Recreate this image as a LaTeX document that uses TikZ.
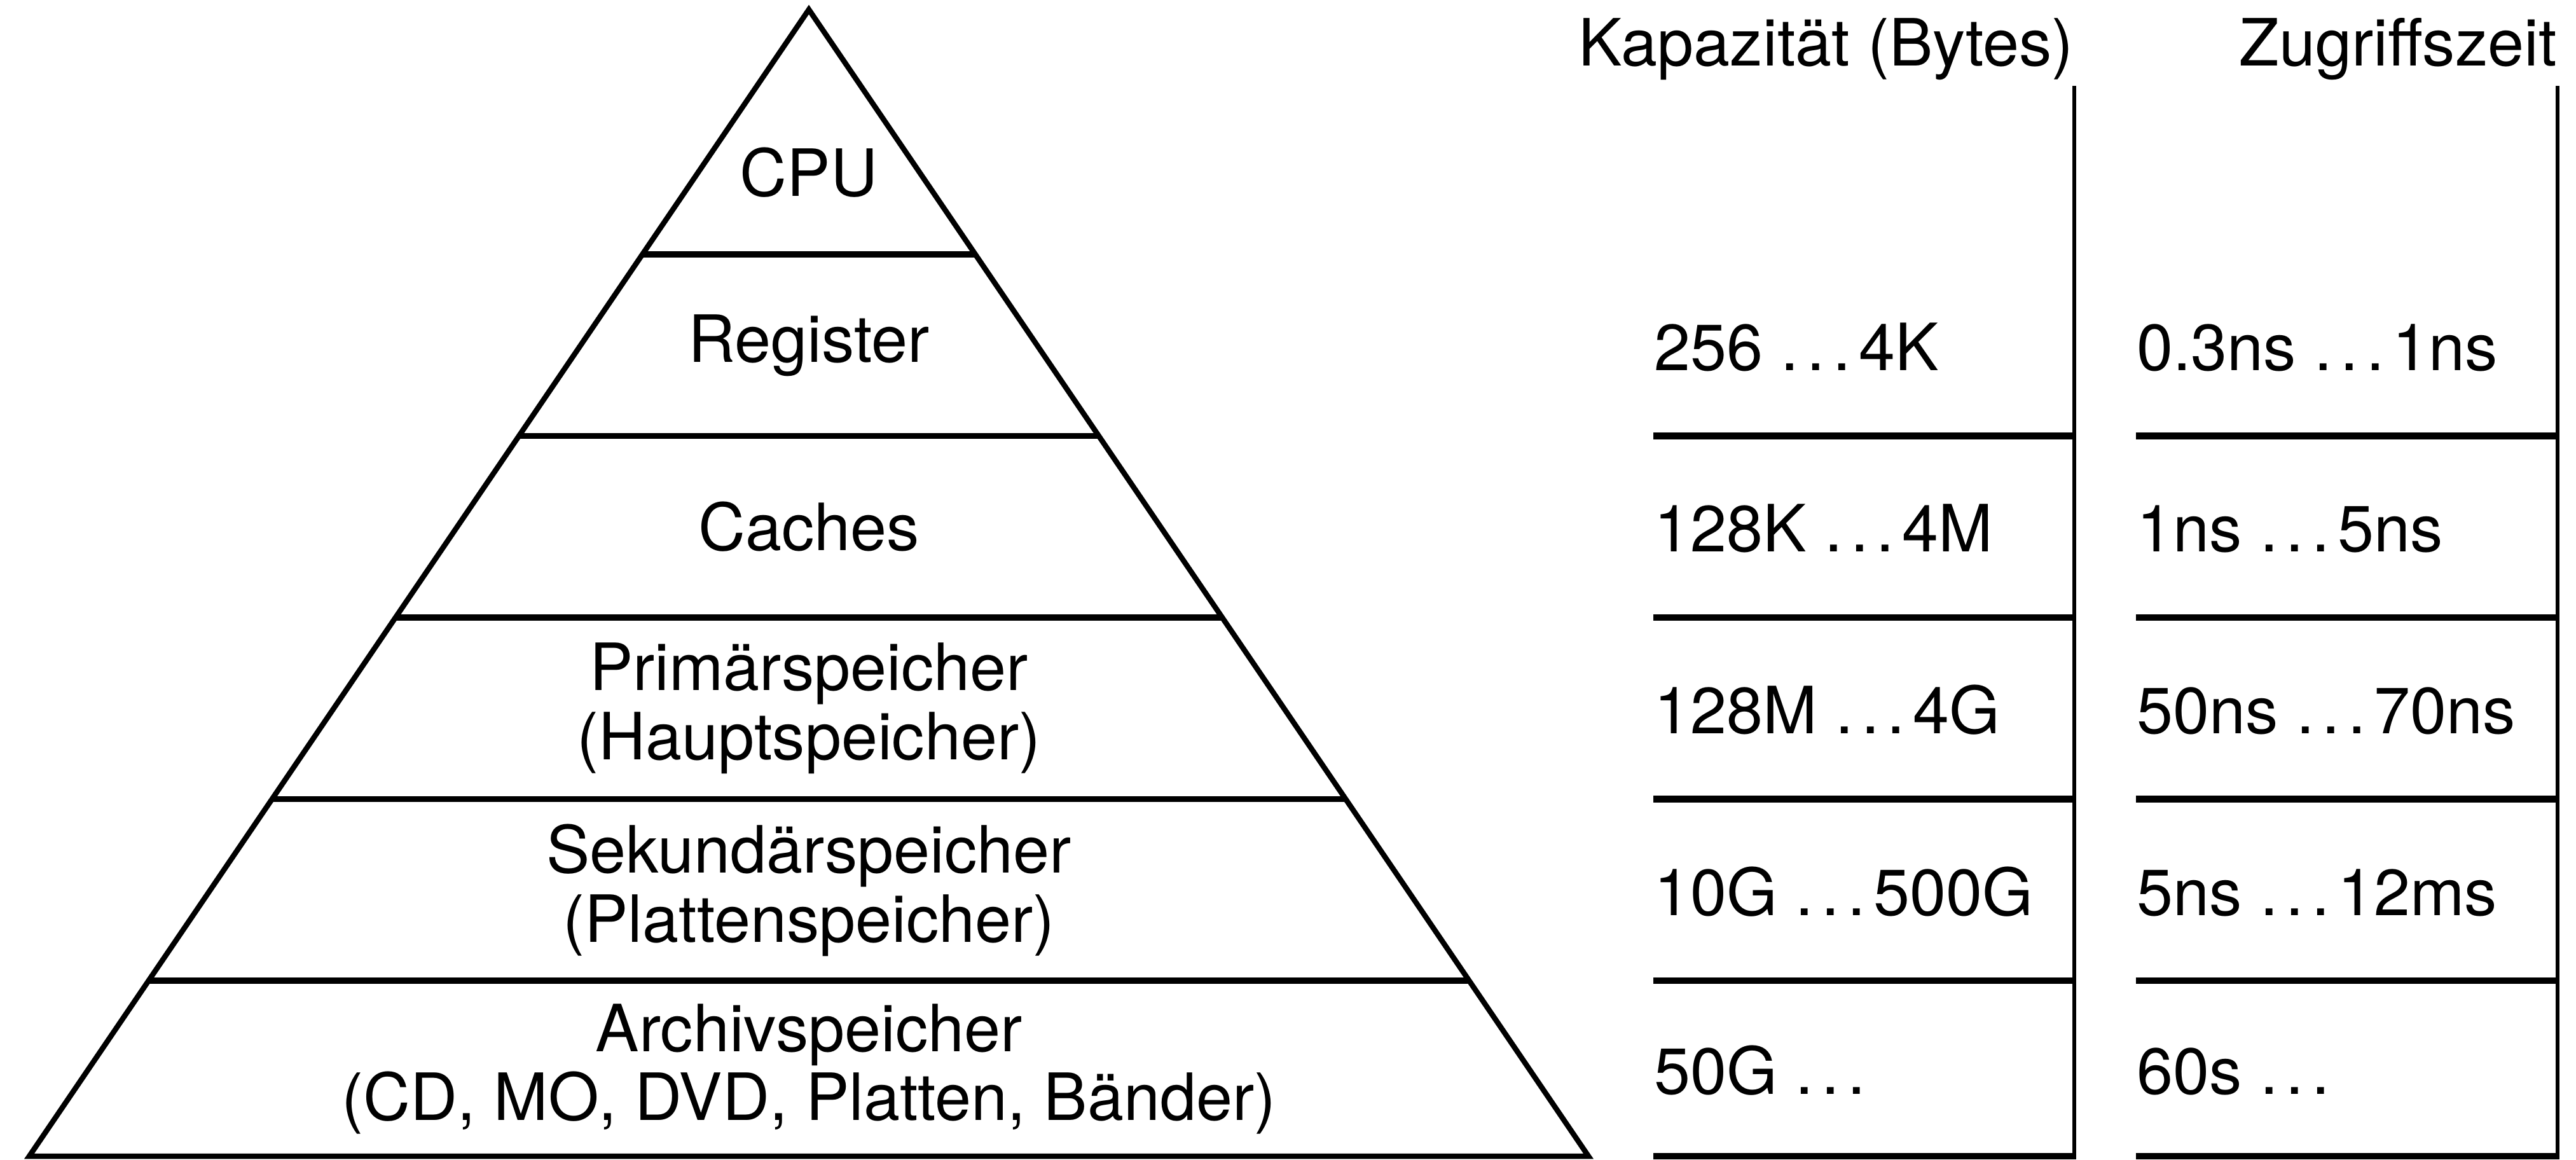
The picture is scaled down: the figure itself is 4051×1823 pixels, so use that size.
\documentclass[tikz,border=0pt]{standalone}
\usepackage{fontspec}
\setmainfont{TeX Gyre Heros}
\usetikzlibrary{calc}
\newcommand\elp{.\kern0.12em.\kern0.12em.\kern0.12em}

\begin{document}
\begin{tikzpicture}[x=0.005cm,y=-0.005cm,
  every node/.style={font=\fontsize{14.6}{15.5}\selectfont,inner sep=0pt},
  side/.style={line width=1.2pt,line join=miter},
  level/.style={line width=1.4pt},
  rule/.style={line width=1.5pt},
  bar/.style={line width=0.9pt},
  layer/.style={align=center},
  val/.style={anchor=base west},
  head/.style={anchor=base east}]
  \useasboundingbox (0,0) rectangle (4051,1823);
  \coordinate (top) at (1272,15);
  \coordinate (bl) at (46,1818);
  \coordinate (br) at (2498,1818);
  \draw[side] (bl) -- (top) -- (br) -- cycle;
  \foreach \y in {400,685.5,971,1256.5,1542}
    \draw[level] ($(top)!{(\y-15)/1803}!(bl)$) -- ($(top)!{(\y-15)/1803}!(br)$);
  \node[layer] (cpu)   at (1272,271)  {CPU};
  \node[layer] (reg)   at (1272,543)  {Register};
  \node[layer] (cache) at (1272,828)  {Caches};
  \node[layer] (prim)  at (1272,1114) {Primärspeicher\\(Hauptspeicher)};
  \node[layer] (sek)   at (1272,1400) {Sekundärspeicher\\(Plattenspeicher)};
  \node[layer] (arch)  at (1272,1681) {Archivspeicher\\(CD, MO, DVD, Platten, Bänder)};
  \node[head] (caphead)  at (3262,103) {Kapazität (Bytes)};
  \node[head] (timehead) at (4022,103) {Zugriffszeit};
  \foreach \x/\xx in {2600/3262,3359/4022}{
    \draw[bar] (\xx,135) -- (\xx,1823);
    \foreach \y in {685.5,971,1256.5,1542,1818}
      \draw[rule] (\x,\y) -- (\xx,\y);
  }
  \foreach \y/\c/\t [count=\i] in {582/256 \elp4K/0.3ns \elp1ns,
      867/128K \elp4M/1ns \elp5ns,
      1153/128M \elp4G/50ns \elp70ns,
      1439/10G \elp500G/5ns \elp12ms,
      1720/50G \elp/60s \elp}{
    \node[val] (cap\i)  at (2600,\y) {\c};
    \node[val] (time\i) at (3359,\y) {\t};
  }
\end{tikzpicture}
\end{document}
